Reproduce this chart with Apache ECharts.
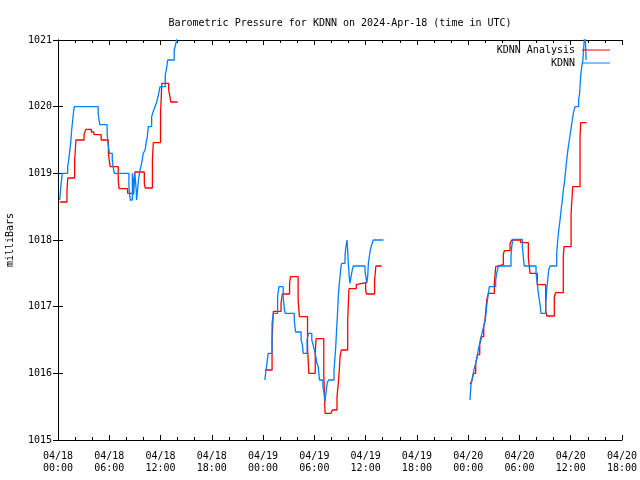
<!DOCTYPE html>
<html>
<head>
<meta charset="utf-8">
<script src="https://cdn.jsdelivr.net/npm/echarts@6/dist/echarts.min.js"></script>
<style>
html,body{margin:0;padding:0;background:#fff;}
#chart{width:640px;height:480px;}
</style>
</head>
<body>
<div id="chart"></div>
<script>
// Hours since 2024-04-18 00:00 UTC, pressure in millibars
const titleText = 'Barometric Pressure for KDNN on 2024-Apr-18 (time in UTC)';
const seriesNames = ['KDNN Analysis', 'KDNN'];
const xTickLabels = ['04/18\n00:00','04/18\n06:00','04/18\n12:00','04/18\n18:00',
  '04/19\n00:00','04/19\n06:00','04/19\n12:00','04/19\n18:00',
  '04/20\n00:00','04/20\n06:00','04/20\n12:00','04/20\n18:00'];
const yTicks = [1015, 1016, 1017, 1018, 1019, 1020, 1021];

const analysisSeg1 = [[0.2,1018.57],[1.05,1018.75],[1.15,1018.93],[1.95,1019.2],[2.1,1019.5],[3.05,1019.58],[3.25,1019.66],[3.9,1019.62],[4.2,1019.58],[5.05,1019.5],[5.9,1019.3],[6.1,1019.1],[7.05,1018.9],[7.15,1018.77],[8.15,1018.7],[8.8,1018.85],[9.0,1019.02],[10.1,1018.85],[10.2,1018.78],[11.05,1019.2],[11.15,1019.46],[12.0,1019.9],[12.15,1020.35],[12.95,1020.25],[13.1,1020.15],[13.2,1020.07],[14.0,1020.07]];
const analysisSeg2 = [[24.2,1016.05],[25.05,1016.5],[25.2,1016.93],[26.1,1017.05],[26.25,1017.19],[27.1,1017.35],[27.2,1017.45],[28.1,1017.1],[28.25,1016.85],[29.2,1016.4],[29.35,1016.0],[30.1,1016.3],[30.2,1016.52],[31.1,1016.0],[31.25,1015.4],[31.95,1015.42],[32.1,1015.45],[32.65,1015.65],[32.8,1015.85],[32.92,1016.05],[33.0,1016.25],[33.15,1016.35],[33.9,1016.8],[34.05,1017.27],[34.9,1017.33],[35.05,1017.36],[36.0,1017.25],[36.1,1017.19],[37.05,1017.4],[37.2,1017.61],[37.88,1017.61]];
const analysisSeg3 = [[48.21,1015.84],[48.41,1015.88],[48.64,1016.0],[48.88,1016.15],[49.11,1016.28],[49.35,1016.43],[49.58,1016.55],[49.82,1016.7],[49.97,1016.8],[50.17,1017.1],[50.36,1017.2],[51.06,1017.35],[51.22,1017.6],[51.34,1017.63],[52.11,1017.78],[52.23,1017.84],[52.9,1017.95],[53.1,1018.0],[54.15,1017.96],[55.04,1017.73],[55.24,1017.5],[56.09,1017.33],[57.07,1016.95],[57.19,1016.86],[58.08,1017.15],[58.24,1017.21],[59.13,1017.75],[59.22,1017.9],[60.04,1018.4],[60.23,1018.8],[61.09,1019.55],[61.17,1019.76],[61.87,1019.76]];

const kdnnSeg1 = [[0.2,1018.6],[0.35,1018.83],[0.5,1019.0],[1.13,1019.1],[1.25,1019.2],[1.37,1019.33],[1.48,1019.45],[1.6,1019.65],[1.72,1019.8],[1.83,1019.93],[1.91,1020.0],[4.7,1019.9],[4.8,1019.8],[4.9,1019.73],[5.75,1019.6],[5.85,1019.45],[5.95,1019.35],[6.05,1019.3],[6.35,1019.2],[6.45,1019.1],[6.6,1019.0],[8.3,1018.8],[8.45,1018.6],[8.7,1019.0],[8.85,1018.68],[9.0,1019.0],[9.15,1018.75],[9.2,1018.6],[9.4,1018.88],[9.56,1019.03],[9.7,1019.1],[9.86,1019.2],[9.97,1019.3],[10.2,1019.35],[10.3,1019.45],[10.45,1019.55],[10.57,1019.7],[10.96,1019.85],[11.15,1019.93],[11.35,1020.0],[11.55,1020.07],[11.74,1020.17],[11.94,1020.3],[12.55,1020.47],[12.7,1020.57],[12.84,1020.7],[13.6,1020.85],[13.8,1020.95],[13.93,1021.05],[14.05,1021.1]];
const kdnnSeg2 = [[24.2,1015.9],[24.4,1016.1],[24.6,1016.3],[25.05,1016.75],[25.2,1016.9],[25.7,1017.15],[25.85,1017.3],[26.35,1017.15],[26.5,1016.95],[26.6,1016.9],[27.65,1016.8],[27.8,1016.62],[28.45,1016.5],[28.6,1016.43],[28.7,1016.3],[29.15,1016.5],[29.3,1016.6],[29.7,1016.5],[29.9,1016.4],[30.1,1016.3],[30.3,1016.15],[30.45,1016.1],[30.6,1015.9],[31.0,1015.8],[31.15,1015.7],[31.25,1015.58],[31.35,1015.7],[31.5,1015.85],[31.65,1015.9],[32.3,1016.05],[32.42,1016.25],[32.5,1016.4],[32.6,1016.65],[32.73,1016.95],[32.8,1017.15],[32.92,1017.35],[33.04,1017.5],[33.12,1017.6],[33.2,1017.65],[33.59,1017.78],[33.7,1017.9],[33.82,1018.0],[33.9,1017.85],[33.97,1017.65],[34.1,1017.42],[34.17,1017.35],[34.29,1017.45],[34.44,1017.55],[34.56,1017.61],[35.93,1017.52],[36.04,1017.45],[36.13,1017.35],[36.24,1017.45],[36.32,1017.65],[36.43,1017.75],[36.55,1017.85],[36.71,1017.93],[36.9,1018.0],[38.07,1018.0]];
const kdnnSeg3 = [[48.21,1015.6],[48.33,1015.83],[48.49,1015.93],[48.6,1016.0],[48.72,1016.08],[48.88,1016.15],[49.0,1016.23],[49.11,1016.3],[49.23,1016.38],[49.35,1016.45],[49.46,1016.53],[49.58,1016.58],[49.7,1016.65],[49.82,1016.7],[49.97,1016.78],[50.09,1016.9],[50.2,1017.05],[50.36,1017.2],[50.48,1017.3],[51.22,1017.4],[51.34,1017.5],[51.53,1017.61],[53.01,1017.75],[53.1,1017.9],[53.21,1018.01],[54.34,1017.9],[54.45,1017.75],[54.57,1017.61],[55.94,1017.5],[56.09,1017.35],[56.21,1017.2],[56.33,1017.1],[56.44,1017.0],[56.52,1016.9],[57.07,1017.05],[57.19,1017.25],[57.31,1017.4],[57.42,1017.55],[57.58,1017.61],[58.36,1017.8],[58.48,1018.0],[58.6,1018.15],[58.75,1018.3],[58.87,1018.45],[59.02,1018.6],[59.13,1018.75],[59.25,1018.85],[59.37,1019.0],[59.49,1019.15],[59.6,1019.28],[59.72,1019.4],[59.84,1019.5],[59.95,1019.6],[60.07,1019.7],[60.19,1019.8],[60.3,1019.9],[60.5,1020.0],[60.92,1020.1],[61.04,1020.2],[61.11,1020.35],[61.19,1020.5],[61.3,1020.6],[61.42,1020.7],[61.5,1020.85],[61.58,1021.0],[61.65,1021.15],[61.75,1020.9],[61.8,1020.7]];

const analysisSegments = [analysisSeg1, analysisSeg2, analysisSeg3];
const kdnnSegments = [kdnnSeg1, kdnnSeg2, kdnnSeg3];
const colors = ['#ff0000', '#0080ff'];

const FONT = 'DejaVu Sans Mono';
const chart = echarts.init(document.getElementById('chart'), null, {renderer: 'canvas'});

function mkSeries(name, color, data) {
  return {
    name: name, type: 'line', data: data, step: 'end',
    xAxisIndex: 0, yAxisIndex: 0,
    showSymbol: false, symbol: 'none', clip: true, animation: false,
    lineStyle: {color: color, width: 1.3}, itemStyle: {color: color},
    emphasis: {disabled: true}
  };
}
const series = [];
analysisSegments.forEach(s => series.push(mkSeries(seriesNames[0], colors[0], s)));
kdnnSegments.forEach(s => series.push(mkSeries(seriesNames[1], colors[1], s)));

const xMin = 0, xMax = 66, xStep = 6;
const axisLineStyle = {show: true, lineStyle: {color: '#000', width: 1}};
function xAxisCfg(pos, labels) {
  return {
    type: 'value', position: pos, min: xMin, max: xMax, interval: xStep,
    axisLine: axisLineStyle,
    axisTick: {show: true, inside: true, length: 5, lineStyle: {color: '#000'}},
    minorTick: {show: true, splitNumber: 3, length: 3, lineStyle: {color: '#000'}},
    splitLine: {show: false},
    axisLabel: {show: labels, color: '#000', fontFamily: FONT, fontSize: 10, lineHeight: 12, margin: 10,
      formatter: v => xTickLabels[Math.round(v / xStep)] || ''}
  };
}
function yAxisCfg(pos, labels) {
  return {
    type: 'value', position: pos, min: yTicks[0], max: yTicks[yTicks.length - 1], interval: 1,
    name: labels ? 'milliBars' : '', nameLocation: 'middle', nameGap: 43, nameRotate: 90,
    nameTextStyle: {color: '#000', fontFamily: FONT, fontSize: 10},
    axisLine: axisLineStyle,
    axisTick: {show: true, inside: true, length: 5, lineStyle: {color: '#000'}},
    splitLine: {show: false},
    axisLabel: {show: labels, color: '#000', fontFamily: FONT, fontSize: 10, margin: 6,
      formatter: v => String(v)}
  };
}

chart.setOption({
  animation: false,
  backgroundColor: '#fff',
  title: {text: titleText, left: 335, textAlign: 'center', top: 13,
    textStyle: {color: '#000', fontFamily: FONT, fontSize: 10, fontWeight: 'normal'}},
  legend: {
    data: seriesNames, orient: 'vertical', align: 'right', right: 30, top: 45, padding: 0,
    itemWidth: 28, itemHeight: 1, itemGap: 3, icon: 'rect',
    textStyle: {color: '#000', fontFamily: FONT, fontSize: 10, padding: [0, 2, 0, 0]},
    selectedMode: false
  },
  grid: {left: 58, right: 18, top: 40, bottom: 40, containLabel: false, outerBoundsMode: 'none'},
  xAxis: [xAxisCfg('bottom', true), xAxisCfg('top', false)],
  yAxis: [yAxisCfg('left', true), yAxisCfg('right', false)],
  series: series
});
</script>
</body>
</html>
